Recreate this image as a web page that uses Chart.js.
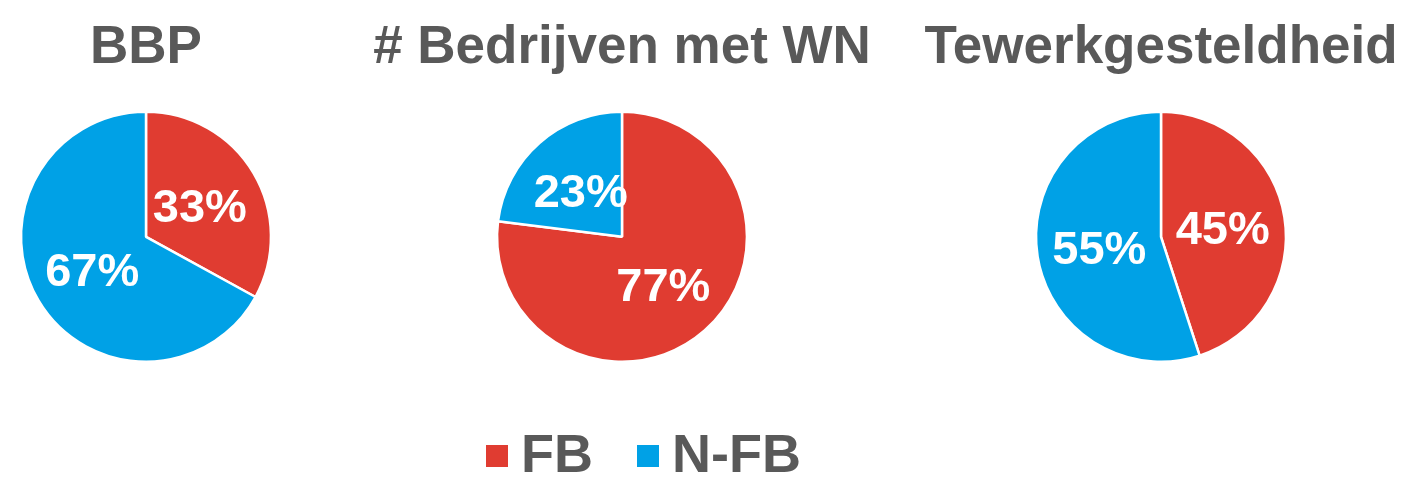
<!DOCTYPE html>
<html>
<head>
<meta charset="utf-8">
<script src="https://cdn.jsdelivr.net/npm/chart.js@4"></script>
<style>
  html, body { margin: 0; padding: 0; background: #fff; overflow: hidden; }
  body { width: 1406px; height: 483px; position: relative; font-family: "Liberation Sans", Arial, sans-serif; }
  canvas { position: absolute; top: 0; }
  #legend { position: absolute; left: 486px; top: 425px; display: flex; align-items: center; height: 55px; }
  .sw { width: 22px; height: 22px; margin-right: 13px; margin-top: 6px; }
  .lt { font-size: 54px; font-weight: bold; color: #595959; line-height: 1; margin-right: 44px; }
</style>
</head>
<body>
<canvas id="pie1" width="600" height="420"></canvas>
<canvas id="pie2" width="600" height="420"></canvas>
<canvas id="pie3" width="600" height="420"></canvas>
<div id="legend"></div>

<script>
// categories and values
const categories = ["FB", "N-FB"];
const colors = ["#E03C31", "#00A1E6"];
const titles = ["BBP", "# Bedrijven met WN", "Tewerkgesteldheid"];
const bbp = [33, 67];
const bedrijven = [77, 23];
const tewerk = [45, 55];
const centersX = [146, 622, 1161];

const grey = "#595959";

// draws the % inside every slice
const sliceLabels = {
    id: "sliceLabels",
    afterDatasetsDraw(chart) {
        const ctx = chart.ctx;
        const meta = chart.getDatasetMeta(0);
        const values = chart.data.datasets[0].data;
        ctx.save();
        ctx.font = "bold 47px 'Liberation Sans', Arial, sans-serif";
        ctx.fillStyle = "#ffffff";
        ctx.textAlign = "center";
        ctx.textBaseline = "alphabetic";
        meta.data.forEach((arc, i) => {
            const p = arc.tooltipPosition();
            ctx.fillText(values[i] + "%", p.x, p.y + 17);
        });
        ctx.restore();
    }
};

function makePie(id, title, values, cx) {
    const el = document.getElementById(id);
    el.style.left = (cx - 300) + "px";
    new Chart(el, {
        type: "pie",
        data: {
            labels: categories,
            datasets: [{
                data: values,
                backgroundColor: colors,
                borderColor: "#ffffff",
                borderWidth: 2.5
            }]
        },
        options: {
            responsive: false,
            animation: false,
            layout: { padding: { left: 0, right: 0, top: 0, bottom: 57 } },
            plugins: {
                legend: { display: false },
                tooltip: { enabled: false },
                title: {
                    display: true,
                    text: title,
                    color: grey,
                    font: { family: "'Liberation Sans', Arial, sans-serif", size: 53, weight: "bold", lineHeight: 1.2 },
                    padding: { top: 17, bottom: 30 }
                }
            }
        },
        plugins: [sliceLabels]
    });
}

makePie("pie1", titles[0], bbp, centersX[0]);
makePie("pie2", titles[1], bedrijven, centersX[1]);
makePie("pie3", titles[2], tewerk, centersX[2]);

// legend
const legend = document.getElementById("legend");
categories.forEach((c, i) => {
    const sw = document.createElement("div");
    sw.className = "sw";
    sw.style.background = colors[i];
    const t = document.createElement("div");
    t.className = "lt";
    t.textContent = c;
    legend.appendChild(sw);
    legend.appendChild(t);
});
</script>
</body>
</html>
